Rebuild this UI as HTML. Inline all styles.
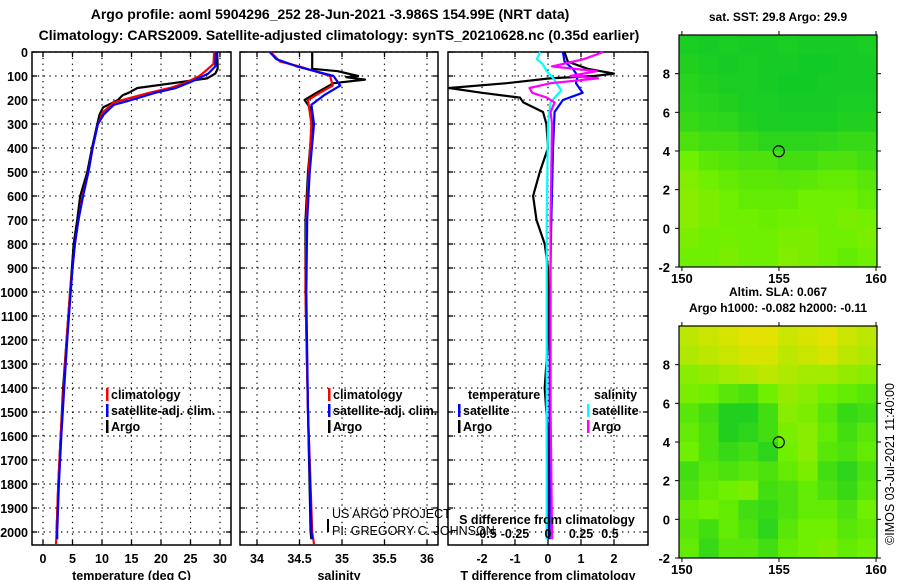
<!DOCTYPE html>
<html><head><meta charset="utf-8"><style>
html,body{margin:0;padding:0;background:#fff;}
svg{display:block;font-family:"Liberation Sans",sans-serif;}
.b{font-weight:bold;}
</style></head><body>
<svg id="chart" width="900" height="580" viewBox="0 0 900 580" xmlns="http://www.w3.org/2000/svg">
<text class="b" x="330" y="19" font-size="14" text-anchor="middle">Argo profile: aoml 5904296_252 28-Jun-2021 -3.986S 154.99E (NRT data)</text>
<text class="b" x="339" y="40" font-size="14" text-anchor="middle">Climatology: CARS2009. Satellite-adjusted climatology: synTS_20210628.nc (0.35d earlier)</text>
<g id="layer"></g>
</svg>
<script>
// ---------- data ----------
const depthTicks = [0,100,200,300,400,500,600,700,800,900,1000,1100,1200,1300,1400,1500,1600,1700,1800,1900,2000];
const tempTicks = [0,5,10,15,20,25,30];
const salTicks = [34,34.5,35,35.5,36];
const tdiffTicks = [-2,-1,0,1,2];
const sdiffTicks = [-0.5,-0.25,0,0.25,0.5];

const argoTDepth = [0,50,70,90,110,130,150,170,180,200,213,230,260,300,400,500,600,700,800,900,1000,1200,1400,1600,1800,2000,2030];
const argoT      = [29.5,29.6,29.6,29.2,27.8,22,16,14.5,13.5,12.7,11.7,10.2,9.6,9.2,8.3,7.5,6.3,5.8,5.2,4.9,4.6,4.0,3.4,3.0,2.6,2.3,2.3];
const climTDepth = [0,50,80,100,130,150,170,190,210,250,300,400,500,600,700,800,900,1000,1200,1400,1600,1800,2000,2050];
const climT      = [29.0,28.9,27.5,26.5,24,21.5,18,15,12,10.2,9.3,8.4,7.7,6.7,6.0,5.4,5.0,4.6,4.0,3.5,3.0,2.6,2.3,2.2];
const satTDepth  = [0,60,90,120,150,170,200,220,260,300,400,500,600,700,800,900,1000,1200,1400,1600,1800,2000,2030];
const satT       = [29.3,29.2,28,25.5,22.5,19,15,12,10.3,9.3,8.4,7.7,6.8,6.0,5.4,5.0,4.7,4.1,3.6,3.1,2.7,2.4,2.4];

const argoSDepth = [0,70,80,100,105,115,130,170,200,230,300,500,700,1000,1500,2000,2030];
const argoS      = [34.65,34.65,34.95,35.19,35.05,35.27,34.9,34.7,34.56,34.62,34.65,34.6,34.57,34.57,34.6,34.63,34.64];
const climSDepth = [0,40,60,100,140,170,200,250,300,500,700,1000,1500,2000,2050];
const climS      = [34.16,34.27,34.5,34.86,34.89,34.74,34.6,34.62,34.64,34.61,34.58,34.57,34.6,34.65,34.67];
const satSDepth  = [0,30,60,100,140,180,220,300,500,700,1000,1500,2000,2030];
const satS       = [34.15,34.23,34.47,34.9,34.98,34.79,34.64,34.67,34.62,34.59,34.58,34.6,34.64,34.65];

const argoTdDepth = [0,40,70,90,100,110,130,150,170,190,210,250,300,400,500,600,700,800,900,1000,1200,1400,1600,1800,2000,2030];
const argoTd      = [0.5,0.6,1.2,2.0,1.4,0.05,-1.25,-3,-2,-0.85,-0.75,-0.15,-0.05,0,-0.25,-0.45,-0.35,-0.1,0,0,0,-0.1,0,0,0,0];
const satTdDepth  = [0,40,70,100,130,170,200,250,400,700,1000,1500,2000,2030];
const satTd       = [0.45,0.5,0.75,0.9,0.85,1.05,0.45,0.2,0.15,0.1,0.06,0.05,0.05,0.05];
const satSdDepth  = [0,30,50,80,110,160,210,300,700,1000,1500,2000,2030];
const satSd       = [-0.06,-0.085,-0.04,-0.01,0.04,0.1,0.02,0,-0.01,-0.01,-0.01,-0.01,-0.01];
const argoSdDepth = [0,30,60,80,100,110,130,150,170,190,210,250,300,700,1000,1500,2000,2030];
const argoSd      = [0.42,0.27,0.03,0.37,0.17,0.38,0.02,-0.14,-0.12,-0.01,0.05,0.02,0.03,0.02,0.02,0.02,0.03,0.03];

const mapLonTicks = [150,155,160];
const mapLatTicks = [-2,0,2,4,6,8];
const sstGrid = [
 [0.12,0.1,0.12,0.1,0.1,0.12,0.1,0.1,0.1,0.12],
 [0.15,0.12,0.1,0.12,0.1,0.1,0.08,0.08,0.1,0.1],
 [0.18,0.15,0.12,0.12,0.1,0.08,0.08,0.1,0.1,0.1],
 [0.2,0.18,0.15,0.12,0.12,0.1,0.1,0.1,0.12,0.12],
 [0.25,0.22,0.2,0.15,0.12,0.12,0.12,0.12,0.15,0.15],
 [0.35,0.3,0.3,0.25,0.2,0.2,0.2,0.22,0.25,0.25],
 [0.5,0.42,0.38,0.35,0.35,0.3,0.3,0.35,0.35,0.3],
 [0.58,0.5,0.45,0.42,0.42,0.4,0.42,0.45,0.45,0.4],
 [0.6,0.55,0.5,0.45,0.45,0.45,0.5,0.5,0.5,0.45],
 [0.6,0.55,0.5,0.5,0.48,0.5,0.52,0.5,0.55,0.52],
 [0.55,0.5,0.52,0.5,0.5,0.55,0.55,0.5,0.5,0.55],
 [0.5,0.5,0.55,0.5,0.5,0.58,0.55,0.5,0.45,0.5]
];
const slaGrid = [
 [0.8,0.85,0.9,0.95,0.95,0.85,0.9,0.95,0.85,0.8],
 [0.75,0.8,0.85,0.9,0.9,0.8,0.85,0.9,0.8,0.75],
 [0.6,0.65,0.7,0.75,0.8,0.75,0.7,0.7,0.65,0.6],
 [0.55,0.5,0.4,0.35,0.5,0.65,0.6,0.5,0.45,0.4],
 [0.4,0.3,0.15,0.15,0.3,0.6,0.55,0.4,0.25,0.3],
 [0.45,0.35,0.15,0.2,0.3,0.55,0.6,0.45,0.3,0.4],
 [0.5,0.35,0.25,0.3,0.2,0.5,0.6,0.4,0.35,0.45],
 [0.3,0.4,0.35,0.4,0.35,0.45,0.55,0.3,0.2,0.35],
 [0.35,0.45,0.5,0.55,0.3,0.35,0.45,0.35,0.25,0.4],
 [0.45,0.5,0.45,0.3,0.25,0.35,0.45,0.45,0.35,0.5],
 [0.4,0.3,0.45,0.35,0.2,0.4,0.5,0.5,0.4,0.45],
 [0.45,0.25,0.4,0.4,0.3,0.45,0.5,0.55,0.45,0.5]
];
const argoLon = 154.99, argoLat = -3.986;

// ---------- helpers ----------
const NS = "http://www.w3.org/2000/svg";
const layer = document.getElementById('layer');
function mk(tag, attrs, parent){const e=document.createElementNS(NS,tag);for(const k in attrs)e.setAttribute(k,attrs[k]);(parent||layer).appendChild(e);return e;}
const yDepth = d => 52 + d*0.24;
const PTOP = 52, PBOT = 545;

function panel(name, x0, x1, xScale, ticks, labelFmt, title, noY){
  const g = mk('g',{});
  
  
  depthTicks.forEach(d=>{
    const l=mk('line',{x1:x0,x2:x1,y1:yDepth(d),y2:yDepth(d),stroke:'#000','stroke-width':1.2,'stroke-dasharray':'1.3 4.5'},g);
    
    
    mk('line',{x1:x0,x2:x0+5,y1:yDepth(d),y2:yDepth(d),stroke:'#000','stroke-width':1.3},g);
    mk('line',{x1:x1-5,x2:x1,y1:yDepth(d),y2:yDepth(d),stroke:'#000','stroke-width':1.3},g);
    if(!noY){
      const t=mk('text',{x:28,y:yDepth(d)+5,'font-size':12.5,'font-weight':'bold','text-anchor':'end'},g);
      t.textContent=d;
      
      
    }
  });
  ticks.forEach(v=>{
    const x=xScale(v);
    mk('line',{x1:x,x2:x,y1:PTOP,y2:PBOT,stroke:'#000','stroke-width':1.2,'stroke-dasharray':'1.3 4.5'},g);
    mk('line',{x1:x,x2:x,y1:PBOT-5,y2:PBOT,stroke:'#000','stroke-width':1.3},g);
    mk('line',{x1:x,x2:x,y1:PTOP,y2:PTOP+5,stroke:'#000','stroke-width':1.3},g);
    const t=mk('text',{x:x,y:563,'font-size':12.5,'font-weight':'bold','text-anchor':'middle'},g);
    t.textContent=labelFmt(v);
    
    
  });
  const fr=mk('rect',{x:x0,y:PTOP,width:x1-x0,height:PBOT-PTOP,fill:'none',stroke:'#000','stroke-width':1.5},g);
  
  
  const tt=mk('text',{x:(x0+x1)/2,y:580,'font-size':12.5,'font-weight':'bold','text-anchor':'middle'},g);
  tt.textContent=title;
  
  
  return g;
}
function profile(name, depths, vals, xScale, color, x0, x1){
  const pts = depths.map((d,i)=>{let x=xScale(vals[i]);x=Math.max(x0,Math.min(x1,x));return x.toFixed(1)+','+yDepth(d).toFixed(1);}).join(' ');
  const p=mk('polyline',{points:pts,fill:'none',stroke:color,'stroke-width':2.2,'stroke-linejoin':'round'});
  
  
}
function legendItem(x,y,color,label,name){
  const g=mk('g',{});
  
  
  if(color) mk('rect',{x:x,y:y-11,width:2.5,height:13,fill:color},g);
  const t=mk('text',{x:x+5,y:y,'font-size':12.5,'font-weight':'bold'},g);
  t.textContent=label;
}

// ---------- panel 1: temperature ----------
const xT = v => 43 + v*5.9;
panel('temperature-panel',32,231,xT,tempTicks,v=>v,'temperature (deg C)',false);
profile('temp-argo-line',argoTDepth,argoT,xT,'#000',32,231);
profile('temp-climatology-line',climTDepth,climT,xT,'#f00',32,231);
profile('temp-satellite-line',satTDepth,satT,xT,'#00f',32,231);
legendItem(106,399,'#f00','climatology','legend-climatology');
legendItem(106,415,'#00f','satellite-adj. clim.','legend-satellite');
legendItem(106,431,'#000','Argo','legend-argo');

// ---------- panel 2: salinity ----------
const xS = v => 257 + (v-34)*85;
panel('salinity-panel',240,438,xS,salTicks,v=>v,'salinity',true);
profile('sal-argo-line',argoSDepth,argoS,xS,'#000',240,438);
profile('sal-climatology-line',climSDepth,climS,xS,'#f00',240,438);
profile('sal-satellite-line',satSDepth,satS,xS,'#00f',240,438);
legendItem(328,399,'#f00','climatology','legend-climatology-2');
legendItem(328,415,'#00f','satellite-adj. clim.','legend-satellite-2');
legendItem(328,431,'#000','Argo','legend-argo-2');
const c1=mk('text',{x:332,y:518,'font-size':12.5});c1.textContent='US ARGO PROJECT';


const c2=mk('text',{x:332,y:535,'font-size':12.5});c2.textContent='PI: GREGORY C. JOHNSON';


mk('rect',{x:327,y:519,width:2,height:13,fill:'#000'});

// ---------- panel 3: differences ----------
const xTd = v => 548 + v*33;
const xSd = v => 548 + v*132;
panel('difference-panel',448,648,xTd,tdiffTicks,v=>v,'T difference from climatology',true);
profile('tdiff-argo-line',argoTdDepth,argoTd,xTd,'#000',448,648);
profile('tdiff-satellite-line',satTdDepth,satTd,xTd,'#00f',448,648);
profile('sdiff-satellite-line',satSdDepth,satSd,xSd,'#0ff',448,648);
profile('sdiff-argo-line',argoSdDepth,argoSd,xSd,'#f0f',448,648);
legendItem(463,399,null,'temperature','legend-temperature-header');
legendItem(458,415,'#00f','satellite','legend-tdiff-satellite');
legendItem(458,431,'#000','Argo','legend-tdiff-argo');
legendItem(589,399,null,'salinity','legend-salinity-header');
legendItem(587,415,'#0ff','satellite','legend-sdiff-satellite');
legendItem(587,431,'#f0f','Argo','legend-sdiff-argo');
const st=mk('text',{x:547,y:524,'font-size':12.5,'font-weight':'bold','text-anchor':'middle'});
st.textContent='S difference from climatology';


sdiffTicks.forEach(v=>{
  const t=mk('text',{x:xSd(v)+(v===0.5?-4:0)+(v===-0.5?4:0),y:538,'font-size':12.5,'font-weight':'bold','text-anchor':'middle'});
  t.textContent=v;
  
  
});

// ---------- maps ----------
function colour(v){
  let r,g,b;
  if(v<0.5){const t=v/0.5;r=0+t*110;g=195+t*45;b=45-t*45;}
  else{const t=(v-0.5)/0.5;r=110+t*130;g=240-t*15;b=0;}
  return `rgb(${r|0},${g|0},${b|0})`;
}
function map(name, grid, x0, x1, yTop, yBot, title1, title2){
  const lon = v => x0 + (v-149.85)/(10.2)*(x1-x0);
  const lat = v => yBot - (v+2)/12*(yBot-yTop);
  const g=mk('g',{});
  
  
  const rows=grid.length, cols=grid[0].length;
  grid.forEach((row,i)=>row.forEach((v,j)=>{
    const xa=lon(149.85+j*10.2/cols), xb=lon(149.85+(j+1)*10.2/cols);
    const ya=lat(10-i*12/rows), yb=lat(10-(i+1)*12/rows);
    const c=mk('rect',{x:xa,y:ya,width:xb-xa+0.5,height:yb-ya+0.5,fill:colour(v)},g);
    
    
  }));
  mk('rect',{x:x0,y:yTop,width:x1-x0,height:yBot-yTop,fill:'none',stroke:'#000','stroke-width':1.2},g);
  mapLonTicks.forEach(v=>{
    mk('line',{x1:lon(v),x2:lon(v),y1:yTop-4,y2:yTop,stroke:'#000'},g);
    mk('line',{x1:lon(v),x2:lon(v),y1:yBot,y2:yBot+4,stroke:'#000'},g);
    const t=mk('text',{x:lon(v),y:yBot+16,'font-size':13,'font-weight':'bold','text-anchor':'middle'},g);
    t.textContent=v;
    
    
  });
  mapLatTicks.forEach(v=>{
    mk('line',{x1:x0-4,x2:x0,y1:lat(v),y2:lat(v),stroke:'#000'},g);
    mk('line',{x1:x1,x2:x1+4,y1:lat(v),y2:lat(v),stroke:'#000'},g);
    const t=mk('text',{x:x0-9,y:lat(v)+5,'font-size':13,'font-weight':'bold','text-anchor':'end'},g);
    t.textContent=v;
    
    
  });
  const m=mk('circle',{cx:lon(argoLon),cy:lat(-argoLat),r:5.5,fill:'none',stroke:'#000','stroke-width':1.2},g);
  
  
  if(title1){const t=mk('text',{x:(x0+x1)/2,y:yTop-14,'font-size':12,'font-weight':'bold','text-anchor':'middle'},g);t.textContent=title1;}
  if(title2){const t=mk('text',{x:(x0+x1)/2,y:yTop-30,'font-size':12,'font-weight':'bold','text-anchor':'middle'},g);t.textContent=title2;}
}
map('sst-map',sstGrid,679,877,35,267,'sat. SST: 29.8 Argo: 29.9',null);
map('sla-map',slaGrid,679,877,326,558,'Argo h1000: -0.082 h2000: -0.11','Altim. SLA: 0.067');
const im=mk('text',{x:0,y:0,'font-size':12.5,'text-anchor':'middle',transform:'translate(894,464) rotate(-90)'});
im.textContent='©IMOS 03-Jul-2021 11:40:00';


</script>
</body></html>
